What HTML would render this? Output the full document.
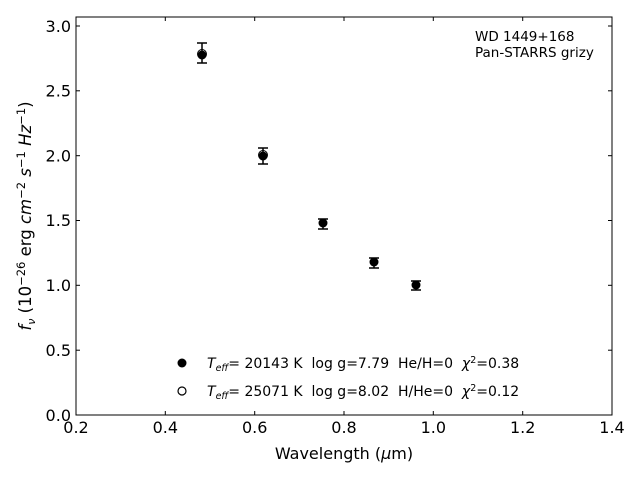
<!DOCTYPE html>
<html><head><style>body{margin:0;background:#fff}svg{display:block}text{font-family:"DejaVu Sans","Liberation Sans",sans-serif;fill:#000;white-space:pre}</style></head>
<body>
<svg width="640" height="480" viewBox="0 0 640 480">
<rect x="76" y="17" width="536" height="398" fill="none" stroke="#000" stroke-width="1"/>
<g stroke="#000" stroke-width="1">
<line x1="76" y1="415" x2="76" y2="411"/><line x1="165.3" y1="415" x2="165.3" y2="411"/><line x1="254.7" y1="415" x2="254.7" y2="411"/><line x1="344" y1="415" x2="344" y2="411"/><line x1="433.3" y1="415" x2="433.3" y2="411"/><line x1="522.7" y1="415" x2="522.7" y2="411"/><line x1="612" y1="415" x2="612" y2="411"/>
<line x1="76" y1="17" x2="76" y2="21"/><line x1="165.3" y1="17" x2="165.3" y2="21"/><line x1="254.7" y1="17" x2="254.7" y2="21"/><line x1="344" y1="17" x2="344" y2="21"/><line x1="433.3" y1="17" x2="433.3" y2="21"/><line x1="522.7" y1="17" x2="522.7" y2="21"/><line x1="612" y1="17" x2="612" y2="21"/>
<line x1="76" y1="415" x2="80" y2="415"/><line x1="76" y1="350.2" x2="80" y2="350.2"/><line x1="76" y1="285.3" x2="80" y2="285.3"/><line x1="76" y1="220.5" x2="80" y2="220.5"/><line x1="76" y1="155.7" x2="80" y2="155.7"/><line x1="76" y1="90.8" x2="80" y2="90.8"/><line x1="76" y1="26" x2="80" y2="26"/>
<line x1="612" y1="415" x2="608" y2="415"/><line x1="612" y1="350.2" x2="608" y2="350.2"/><line x1="612" y1="285.3" x2="608" y2="285.3"/><line x1="612" y1="220.5" x2="608" y2="220.5"/><line x1="612" y1="155.7" x2="608" y2="155.7"/><line x1="612" y1="90.8" x2="608" y2="90.8"/><line x1="612" y1="26" x2="608" y2="26"/>
</g>
<g font-size="16" text-anchor="middle">
<text x="76" y="433">0.2</text><text x="165.3" y="433">0.4</text><text x="254.7" y="433">0.6</text><text x="344" y="433">0.8</text><text x="433.3" y="433">1.0</text><text x="522.7" y="433">1.2</text><text x="612" y="433">1.4</text>
</g>
<g font-size="16" text-anchor="end">
<text x="71" y="421">0.0</text><text x="71" y="356">0.5</text><text x="71" y="291">1.0</text><text x="71" y="226">1.5</text><text x="71" y="161.5">2.0</text><text x="71" y="96.5">2.5</text><text x="71" y="32">3.0</text>
</g>
<text x="344" y="459" font-size="16" text-anchor="middle">Wavelength (<tspan font-style="italic">μ</tspan>m)</text>
<text transform="translate(31,216) rotate(-90)" font-size="16.5" text-anchor="middle"><tspan font-style="italic">f<tspan font-size="11" dy="4">ν</tspan></tspan><tspan dy="-4"> (10</tspan><tspan font-size="11.5" dy="-6">−26</tspan><tspan dy="6"> erg </tspan><tspan font-style="italic">cm</tspan><tspan font-size="11.5" dy="-6">−2</tspan><tspan dy="6" font-style="italic"> s</tspan><tspan font-size="11.5" dy="-6">−1</tspan><tspan dy="6" font-style="italic"> Hz</tspan><tspan font-size="11.5" dy="-6">−1</tspan><tspan dy="6">)</tspan></text>
<text x="475" y="41" font-size="13.5">WD 1449+168</text>
<text x="475" y="57" font-size="13.5">Pan-STARRS grizy</text>
<g stroke="#000" stroke-width="1.5" fill="none">
<path d="M202 43V63M197 43H207M197 63H207"/>
<path d="M263 148V164M258 148H268M258 164H268"/>
<path d="M323 219V229M318 219H328M318 229H328"/>
<path d="M374 258V268M369 258H379M369 268H379"/>
<path d="M416 281V290M411 281H421M411 290H421"/>
</g>
<g fill="#000">
<circle cx="202" cy="55" r="4.5"/><circle cx="263" cy="156" r="4.5"/><circle cx="323" cy="223" r="4.5"/><circle cx="374" cy="262" r="4.5"/><circle cx="416" cy="285" r="4.5"/>
</g>
<g fill="none" stroke="#000">
<circle cx="202" cy="54" r="4.5"/><circle cx="263" cy="155" r="4.5"/>
</g>
<circle cx="182" cy="363" r="4.5" fill="#000"/>
<circle cx="182" cy="391" r="4" fill="none" stroke="#000" stroke-width="1.2"/>
<g font-size="14">
<text x="207" y="368"><tspan font-style="italic">T<tspan font-size="9.5" dy="3">eff</tspan></tspan><tspan dy="-3">= 20143 K  log g=7.79  He/H=0  </tspan><tspan font-style="italic">χ</tspan><tspan font-size="9.5" dy="-5">2</tspan><tspan dy="5">=0.38</tspan></text>
<text x="207" y="396"><tspan font-style="italic">T<tspan font-size="9.5" dy="3">eff</tspan></tspan><tspan dy="-3">= 25071 K  log g=8.02  H/He=0  </tspan><tspan font-style="italic">χ</tspan><tspan font-size="9.5" dy="-5">2</tspan><tspan dy="5">=0.12</tspan></text>
</g>
</svg>
</body></html>
